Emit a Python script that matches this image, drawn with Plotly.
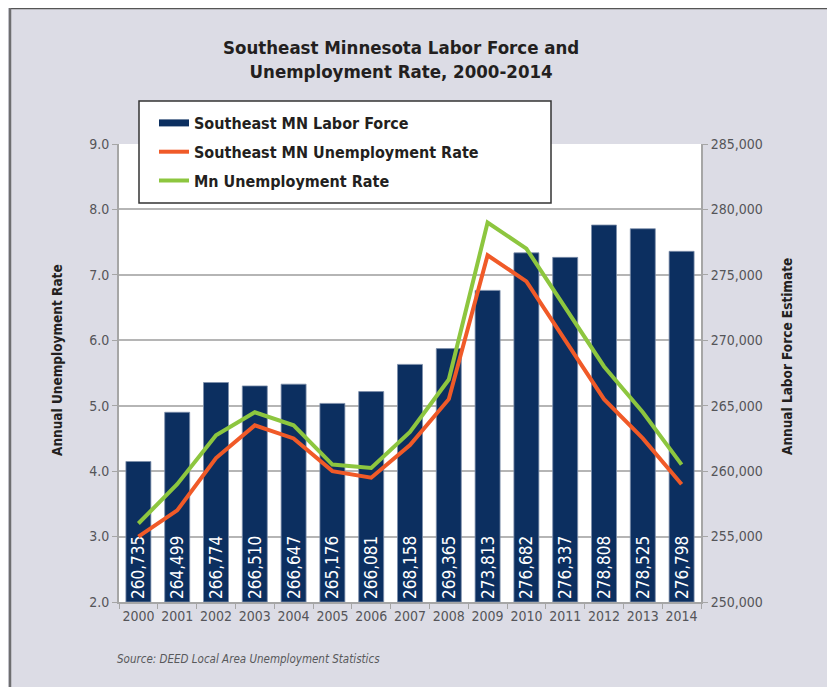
import plotly.graph_objects as go

years = ["2000", "2001", "2002", "2003", "2004", "2005", "2006", "2007",
         "2008", "2009", "2010", "2011", "2012", "2013", "2014"]
labor_force = [260735, 264499, 266774, 266510, 266647, 265176, 266081, 268158,
               269365, 273813, 276682, 276337, 278808, 278525, 276798]
se_rate = [3.0, 3.4, 4.2, 4.7, 4.5, 4.0, 3.9, 4.4, 5.1, 7.3, 6.9, 6.0, 5.1, 4.5, 3.8]
mn_rate = [3.2, 3.8, 4.55, 4.9, 4.7, 4.1, 4.05, 4.6, 5.4, 7.8, 7.4, 6.5, 5.6, 4.9, 4.1]

left_ticks = [2, 3, 4, 5, 6, 7, 8, 9]
right_ticks = [250000, 255000, 260000, 265000, 270000, 275000, 280000, 285000]
LF_AXIS_MIN = 250000  # bars grow up from the axis minimum, as in the original

NAVY = "#0c2f60"
ORANGE = "#f05a28"
GREEN = "#8dc63f"
BG = "#dcdce5"
FONT = "DejaVu Sans Condensed, Liberation Sans Narrow, sans-serif"
TICK = "#555559"

# the page body has an 8px margin; work in reference-image pixels and shift
OFF = 8
W, H = 835 - OFF, 687 - OFF
L, R, T, B = 119 - OFF, 701 - OFF, 144 - OFF, 602 - OFF


def px(x):
    return (x - OFF - L) / (R - L)


def py(y):
    return (B - (y - OFF)) / (B - T)


fig = go.Figure()

fig.add_trace(go.Bar(
    x=years, y=[v - LF_AXIS_MIN for v in labor_force], base=LF_AXIS_MIN,
    yaxis="y", name="Southeast MN Labor Force",
    marker=dict(color=NAVY, line=dict(color="#7d8fab", width=0.8)),
    text=[f"{v:,}" for v in labor_force], textposition="inside",
    insidetextanchor="start", textangle=-90, constraintext="none",
    textfont=dict(family=FONT, size=17, color="white"),
    customdata=labor_force, hovertemplate="%{x}: %{customdata:,}<extra></extra>",
    showlegend=False,
))
# legend entry for the bars (line-style swatch as in the original)
fig.add_trace(go.Scatter(
    x=[None], y=[None], mode="lines", name="<b>Southeast MN Labor Force</b>",
    line=dict(color=NAVY, width=7), yaxis="y2", legendgroup="a",
))
fig.add_trace(go.Scatter(
    x=years, y=se_rate, mode="lines", name="<b>Southeast MN Unemployment Rate</b>",
    line=dict(color=ORANGE, width=4), yaxis="y2", legendgroup="b",
))
fig.add_trace(go.Scatter(
    x=years, y=mn_rate, mode="lines", name="<b>Mn Unemployment Rate</b>",
    line=dict(color=GREEN, width=4), yaxis="y2", legendgroup="c",
))

shapes = [
    dict(type="line", xref="paper", yref="paper", x0=px(9), x1=px(831),
         y0=py(8.6), y1=py(8.6), line=dict(color="#555", width=1.5)),
    dict(type="line", xref="paper", yref="paper", x0=px(10), x1=px(10),
         y0=py(8), y1=py(700), line=dict(color="#6e6e70", width=2.5)),
    dict(type="rect", xref="paper", yref="paper", x0=px(830.5), x1=px(840),
         y0=py(0), y1=py(700), fillcolor="#7b8fb4", line=dict(color="#3e4f70", width=1)),
    # legend box
    dict(type="rect", xref="paper", yref="paper", x0=px(139), x1=px(551),
         y0=py(203), y1=py(101), fillcolor="white",
         line=dict(color="#333333", width=1.5), layer="above"),
]

annotations = [
    dict(text="<b>Southeast Minnesota Labor Force and<br>Unemployment Rate, 2000-2014</b>",
         xref="paper", yref="paper", x=px(401), y=py(59), xanchor="center", yanchor="middle",
         showarrow=False, font=dict(family=FONT, size=18.5, color="#231f20")),
    dict(text="<b>Annual Unemployment Rate</b>", textangle=-90,
         xref="paper", yref="paper", x=px(57), y=py(360), xanchor="center", yanchor="middle",
         showarrow=False, font=dict(family=FONT, size=13.5, color="#231f20")),
    dict(text="<b>Annual Labor Force Estimate</b>", textangle=-90,
         xref="paper", yref="paper", x=px(787), y=py(357), xanchor="center", yanchor="middle",
         showarrow=False, font=dict(family=FONT, size=13.5, color="#231f20")),
    dict(text="<i>Source: DEED Local Area Unemployment Statistics</i>",
         xref="paper", yref="paper", x=px(115), y=py(659), xanchor="left", yanchor="middle",
         showarrow=False, font=dict(family=FONT, size=11.5, color="#58595b")),
]

fig.update_layout(
    width=W, height=H,
    margin=dict(l=L, r=W - R, t=T, b=H - B, pad=0, autoexpand=False),
    paper_bgcolor=BG, plot_bgcolor="white",
    bargap=0.356,
    font=dict(family=FONT, size=14, color=TICK),
    showlegend=True,
    legend=dict(x=px(154), y=py(106), xanchor="left", yanchor="top",
                bgcolor="rgba(0,0,0,0)", borderwidth=0, tracegroupgap=5,
                font=dict(family=FONT, size=16, color="#231f20"),
                traceorder="grouped", itemclick=False),
    xaxis=dict(type="category", showline=True, linecolor="#a6a6a6", linewidth=2,
               ticks="outside", tickson="boundaries", ticklen=5, tickcolor="#a6a6a6",
               tickfont=dict(family=FONT, size=14, color=TICK), showgrid=False,
               tickangle=0, range=[-0.5, 14.5]),
    yaxis=dict(side="right", range=[250000, 285000], tickvals=right_ticks,
               tickformat=",d", showgrid=True, gridcolor="#b5b5b5", gridwidth=1.5,
               showline=True, linecolor="#a6a6a6", linewidth=2,
               ticks="outside", ticklen=5, tickcolor="#a6a6a6",
               tickfont=dict(family=FONT, size=14, color=TICK), zeroline=False),
    yaxis2=dict(side="left", overlaying="y", range=[2, 9], tickvals=left_ticks,
                tickformat=".1f", showgrid=False, showline=True, linecolor="#a6a6a6",
                linewidth=2, ticks="outside", ticklen=5, tickcolor="#a6a6a6",
                tickfont=dict(family=FONT, size=14, color=TICK), zeroline=False),
    shapes=shapes,
    annotations=annotations,
)

fig.write_html("out.html")
